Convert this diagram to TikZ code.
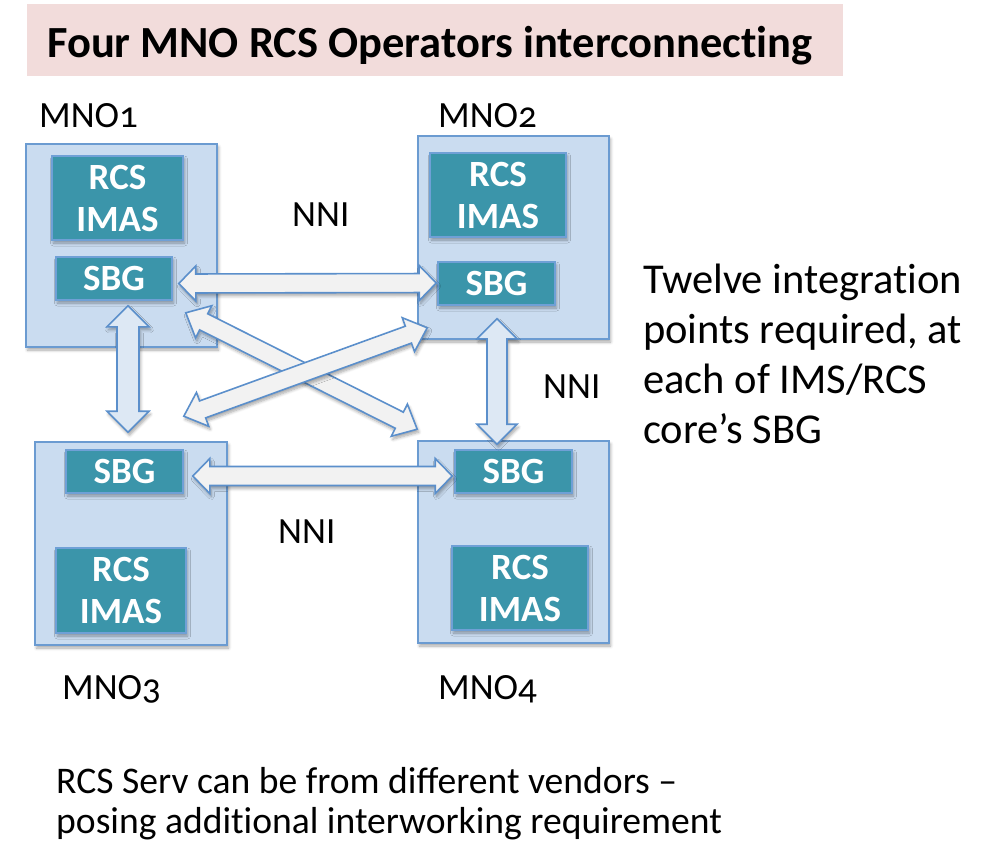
\documentclass[tikz,border=0pt]{standalone}
\usepackage{fontspec}
\setmainfont{Carlito}[Numbers=OldStyle]
\usetikzlibrary{calc,shadows.blur}

\definecolor{bandpink}{HTML}{F2DCDB}
\definecolor{mnofill}{HTML}{CADCF0}
\definecolor{mnoline}{HTML}{6B9BD1}
\definecolor{corefill}{HTML}{3B95AA}
\definecolor{coreline}{HTML}{6FA0D6}
\definecolor{arrowfill}{HTML}{F2F2F2}
\definecolor{arrowfillv}{HTML}{DDE8F4}
\definecolor{arrowline}{HTML}{5B8FCB}

% plain "t" + "i" without the font's ti ligature
\newcommand\tisep{t\kern0pt i}

% double-headed block arrow between two points
% #1 style, #2/#3 tips, #4 half shaft width, #5 half head width, #6 head length
\newcommand\blockarrow[6]{%
  \path[#1] (#2)
   -- ($(#2)!#6!(#3)!#5!90:(#3)$)
   -- ($(#2)!#6!(#3)!#4!90:(#3)$)
   -- ($(#3)!#6!(#2)!#4!-90:(#2)$)
   -- ($(#3)!#6!(#2)!#5!-90:(#2)$)
   -- (#3)
   -- ($(#3)!#6!(#2)!#5!90:(#2)$)
   -- ($(#3)!#6!(#2)!#4!90:(#2)$)
   -- ($(#2)!#6!(#3)!#4!-90:(#3)$)
   -- ($(#2)!#6!(#3)!#5!-90:(#3)$)
   -- cycle;}

\tikzset{
  softshadow/.style={blur shadow={shadow xshift=1.5pt, shadow yshift=-3pt,
      shadow blur steps=6, shadow blur radius=3pt, shadow opacity=35}},
  mno/.style={draw=mnoline, line width=1.6pt, fill=mnofill, softshadow,
      inner sep=0pt, rectangle},
  core/.style={draw=coreline, line width=1.6pt, fill=corefill, softshadow,
      text=white, font=\fontsize{37}{42}\selectfont\bfseries, align=center,
      inner sep=0pt},
  plain/.style={inner sep=0pt, anchor=base west, font=\fontsize{37}{44}\selectfont},
  harrow/.style={draw=arrowline, line width=1.6pt, fill=arrowfill, line join=miter, softshadow},
  varrow/.style={harrow, fill=arrowfillv}
}

\begin{document}
\begin{tikzpicture}[x=1pt, y=-1pt]
\useasboundingbox (0,0) rectangle (996,844);

% heading band
\fill[bandpink] (27,4) rectangle (843,76);
\node[plain, font=\fontsize{44.5}{50}\selectfont\bfseries] (title) at (47,57)
  {Four MNO RCS Operators interconnec\tisep ng};

% operator frames
\node[mno, minimum width=191pt, minimum height=203pt] (mno1) at (121.5,245.5) {};
\node[mno, minimum width=191pt, minimum height=203pt] (mno2) at (513.5,237.5) {};
\node[mno, minimum width=192pt, minimum height=203pt] (mno3) at (131,543.5) {};
\node[mno, minimum width=191pt, minimum height=202pt] (mno4) at (513.5,542) {};

% core blocks
\node[core, minimum width=131pt, minimum height=84pt] (rcs1) at (117.5,198) {RCS\\IMAS};
\node[core, minimum width=136pt, minimum height=84pt] (rcs2) at (498,195) {RCS\\IMAS};
\node[core, minimum width=130pt, minimum height=85pt] (rcs3) at (121,590.5) {RCS\\IMAS};
\node[core, minimum width=136pt, minimum height=84pt] (rcs4) at (520,588) {RCS\\IMAS};

\node[core, minimum width=116pt, minimum height=43pt] (sbg1) at (114,278.5) {SBG};
\node[core, minimum width=117pt, minimum height=43pt] (sbg2) at (496.5,283.5) {SBG};
\node[core, minimum width=117pt, minimum height=43pt] (sbg3) at (124.5,471.5) {SBG};
\node[core, minimum width=117pt, minimum height=43pt] (sbg4) at (513.5,471.5) {SBG};

% operator names
\node[plain] (lab1) at (39,127) {MNO1};
\node[plain] (lab2) at (438,127) {MNO2};
\node[plain] (lab3) at (62,699) {MNO3};
\node[plain] (lab4) at (438,699) {MNO4};

% arrow tips next to the SBG blocks
\coordinate (h1a) at ($(sbg1.east |- sbg2.west)+(6,0)$);
\coordinate (h1b) at ($(sbg2.west)+(-1,-0.5)$);
\coordinate (h2a) at ($(sbg3.east)+(9,4.5)$);
\coordinate (h2b) at ($(sbg4.west)+(-2,4.5)$);
\coordinate (v1a) at ($(sbg1.south)+(14,5)$);
\coordinate (v1b) at ($(sbg3.north)+(3.5,-17)$);
\coordinate (v2a) at ($(sbg2.south)+(0.5,13)$);
\coordinate (v2b) at ($(sbg4.north)+(-16.5,-5)$);
\coordinate (d1a) at ($(sbg1.south east)+(13,12)$);
\coordinate (d1b) at ($(sbg4.north west)+(-37,-20)$);
\coordinate (d2a) at ($(sbg3.north east)+(0,-33)$);
\coordinate (d2b) at ($(sbg2.south west)+(-10,22)$);

% NNI links
\blockarrow{harrow}{d1a}{d1b}{9pt}{18pt}{20pt}
\blockarrow{harrow}{d2a}{d2b}{9pt}{18pt}{20pt}
\blockarrow{harrow}{h1a}{h1b}{9.5pt}{17.5pt}{17pt}
\blockarrow{harrow}{h2a}{h2b}{9.5pt}{17.5pt}{17pt}
\blockarrow{varrow}{v1a}{v1b}{11pt}{21pt}{21pt}
\blockarrow{varrow}{v2a}{v2b}{10pt}{20pt}{20pt}

\node[plain] (nni1) at (292,226) {NNI};
\node[plain] (nni2) at (543,398) {NNI};
\node[plain] (nni3) at (278,543) {NNI};

% side note and footnote (anchored on the baseline of their last line)
\node[plain, align=left, font=\fontsize{42.5}{50}\selectfont] (note) at (643,443)
  {Twelve integra\tisep on\\points required, at\\each of IMS/RCS\\core’s SBG};
\node[plain, align=left, font=\fontsize{37.6}{40}\selectfont] (foot) at (56,833)
  {RCS Serv can be from different vendors –\\posing addi\tisep onal interworking requirement};
\end{tikzpicture}
\end{document}
